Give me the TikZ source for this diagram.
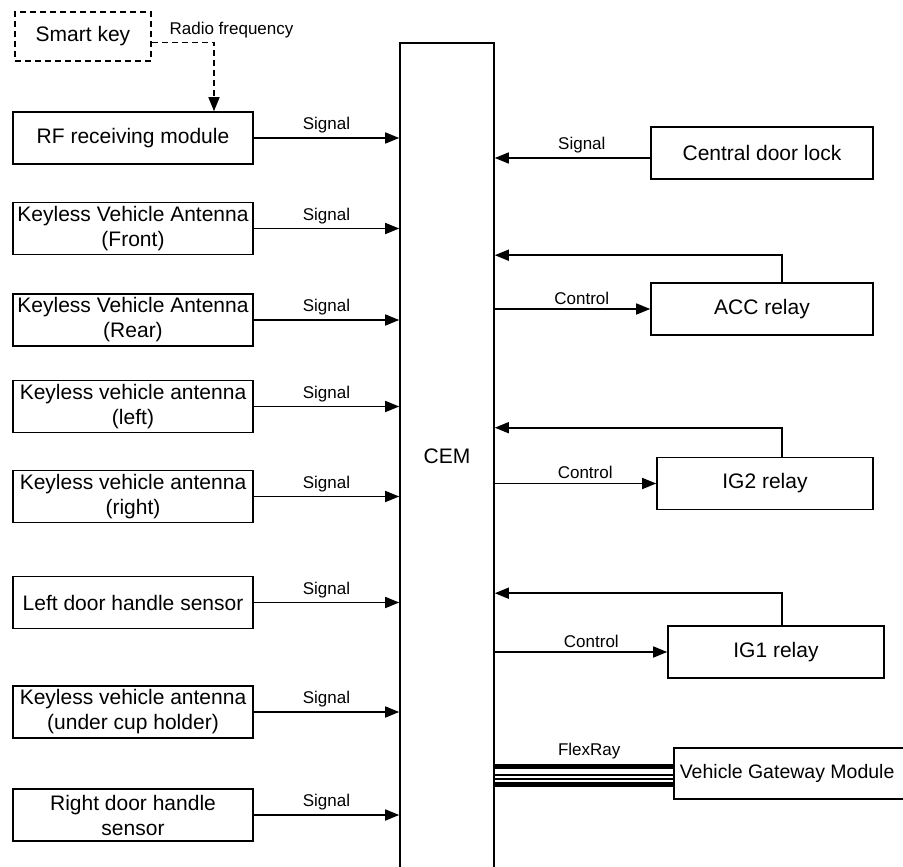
\documentclass[tikz,border=0pt]{standalone}
\usepackage{fontspec}
\setmainfont{Liberation Sans}
\usetikzlibrary{arrows.meta}

\tikzset{
  unit/.style={draw, line width=1.6pt, minimum width=240pt, minimum height=52pt,
    align=center, inner sep=1pt, font=\fontsize{21}{25}\selectfont},
  lbl/.style={font=\fontsize{17}{20}\selectfont, inner sep=2pt, yshift=2pt},
  sig/.style={line width=1.6pt, -{Triangle[length=14pt,width=11pt]}},
  rfdash/.style={dash pattern=on 6pt off 4pt},
}

\begin{document}
\begin{tikzpicture}[x=1pt, y=-1pt]
  \useasboundingbox (0,0) rectangle (903,867);
  \clip (0,0) rectangle (903,867);
  % the CEM, running off the bottom
  \node[unit, minimum width=94pt, minimum height=826pt] (cem) at (447,456) {CEM};
  \coordinate (fbx) at (782,0);
  % smart key and radio link
  \node[unit, rfdash, minimum width=136pt, minimum height=49pt] (sk) at (83,36.5) {Smart key};
  % inputs on the left
  \foreach \name/\y/\txt in {
    rf/138/RF receiving module,
    kfront/228.5/{Keyless Vehicle Antenna\\(Front)},
    krear/320/{Keyless Vehicle Antenna\\(Rear)},
    kleft/406.5/{Keyless vehicle antenna\\(left)},
    kright/496.5/{Keyless vehicle antenna\\(right)},
    ldh/602.5/Left door handle sensor,
    kcup/712/{Keyless vehicle antenna\\(under cup holder)},
    rdh/815/{Right door handle\\sensor}}
  {
    \node[unit] (\name) at (133,\y) {\txt};
    \draw[sig] (\name.east) -- (\name.east -| cem.west) node[lbl, midway, above] {Signal};
  }
  \draw[sig, rfdash] ([yshift=-6pt]sk.east) node[lbl, anchor=south west, xshift=15pt] {Radio frequency}
    -| ([xshift=81pt]rf.north);
  % central door lock
  \node[unit, minimum width=222pt] (cdl) at (762,153) {Central door lock};
  \draw[sig] ([yshift=-5pt]cdl.west) -- ([yshift=-5pt]cdl.west -| cem.east) node[lbl, pos=0.44, above] {Signal};
  % relays, control out and feedback in
  \foreach \name/\x/\y/\w/\up/\txt in {
    acc/762/309/222/27/ACC relay,
    ig2/765/483.5/216/29/IG2 relay,
    ig1/776/652/216/32/IG1 relay}
  {
    \node[unit, minimum width=\w pt] (\name) at (\x,\y) {\txt};
    \draw[sig] (\name.west -| cem.east) -- (\name.west) node[lbl, pos=0.56, above] {Control};
    \draw[sig] (\name.north -| fbx) |- ([yshift=\up pt]\name.north -| cem.east);
  }
  % gateway on FlexRay
  \node[unit, anchor=west, text width=250pt, align=flush left, inner xsep=6pt, minimum height=51pt,
    font=\fontsize{19.5}{23}\selectfont] (vgm) at (673,773.5) {Vehicle Gateway Module};
  \draw[line width=5pt] ([yshift=7pt]vgm.west) -- ([yshift=7pt]vgm.west -| cem.east) node[lbl, pos=0.47, above, yshift=1pt] {FlexRay};
  \draw[line width=1.2pt] ([yshift=-1.5pt]vgm.west) -- ([yshift=-1.5pt]vgm.west -| cem.east);
  \draw[line width=1.2pt] ([yshift=-5.5pt]vgm.west) -- ([yshift=-5.5pt]vgm.west -| cem.east);
  \draw[line width=5pt] ([yshift=-10.5pt]vgm.west) -- ([yshift=-10.5pt]vgm.west -| cem.east);
\end{tikzpicture}
\end{document}
